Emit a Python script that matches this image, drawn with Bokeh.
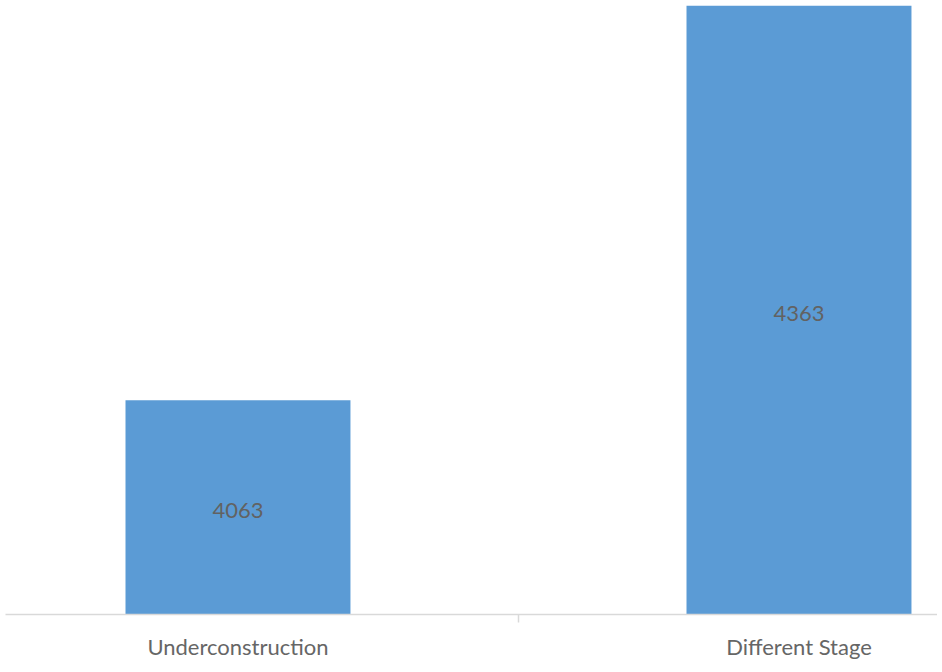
from bokeh.plotting import figure
from bokeh.models import ColumnDataSource, FixedTicker, Range1d, LabelSet
from bokeh.core.properties import value
from bokeh.embed import file_html
from bokeh.resources import INLINE

categories = ["Underconstruction", "Different Stage"]
values = [4063, 4363]

y_start = 3900
y_end = 4367

xs = [i + 0.5 for i in range(len(categories))]
mids = [(y_start + v) / 2 for v in values]
src = ColumnDataSource(dict(x=xs, top=values, mid=mids, lab=[str(v) for v in values]))

p = figure(frame_width=932, frame_height=614, output_backend="svg", toolbar_location=None,
           x_range=Range1d(0.0856, 1.7469), y_range=Range1d(y_start, y_end),
           min_border_left=5, min_border_right=0, min_border_top=0, min_border_bottom=0)
p.outline_line_color = None
p.grid.visible = False
p.yaxis.visible = False
p.background_fill_color = "white"
p.border_fill_color = "white"

p.vbar(x="x", top="top", bottom=y_start, width=0.401, source=src,
       fill_color="#5B9BD5", line_color=None)

labels = LabelSet(x="x", y="mid", text="lab", source=src, text_align="center",
                  text_baseline="middle", text_color="#626262", text_font=value("Lato"),
                  text_font_size="22px", y_offset=-3)
p.add_layout(labels)

ax = p.xaxis[0]
ax.ticker = FixedTicker(ticks=xs, minor_ticks=[1.0])
ax.major_label_overrides = {x: c for x, c in zip(xs, categories)}
ax.axis_line_color = "#D9D9D9"
ax.axis_line_width = 1.5
ax.major_tick_line_color = None
ax.minor_tick_line_color = "#D9D9D9"
ax.minor_tick_line_width = 1.5
ax.minor_tick_out = 8
ax.minor_tick_in = 0
ax.major_label_text_font = "Lato"
ax.major_label_text_font_size = "22px"
ax.major_label_text_color = "#666666"
ax.major_label_standoff = 10

open("out.html", "w").write(file_html(p, INLINE))
